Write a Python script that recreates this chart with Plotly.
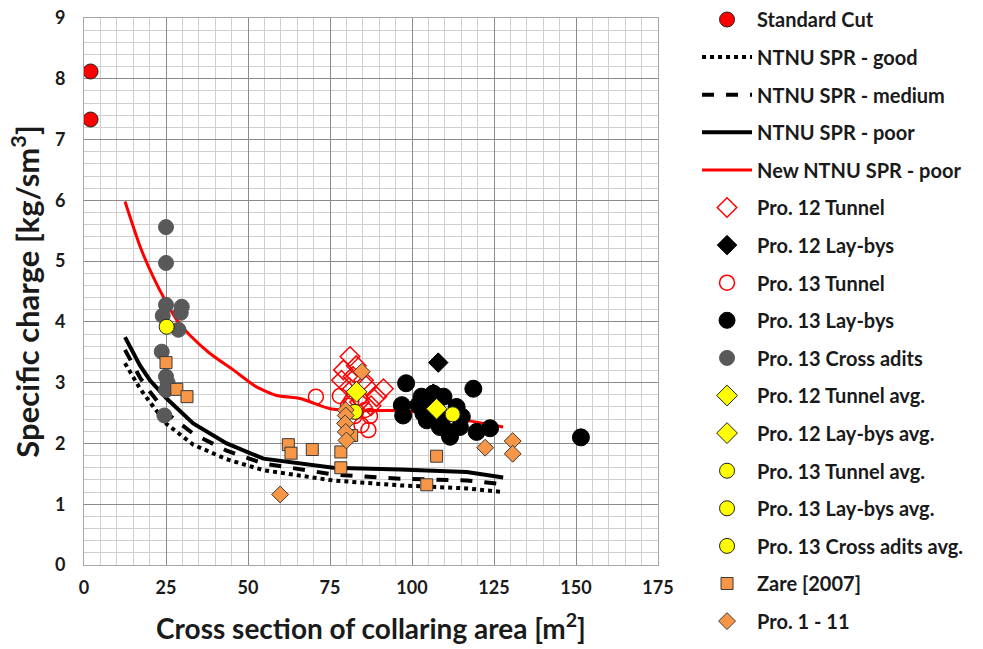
import plotly.graph_objects as go

# ---------------- data ----------------
std_cut_x = [2.0, 2.0]
std_cut_y = [8.12, 7.33]

spr_x = [12.5, 17.1, 20.1, 25.2, 33.3, 43.5, 54.7, 76.0, 96.3, 116.7, 127.8]
spr_good_y = [3.32, 2.90, 2.68, 2.32, 1.98, 1.74, 1.56, 1.39, 1.31, 1.26, 1.20]
spr_med_y = [3.54, 3.08, 2.85, 2.50, 2.16, 1.88, 1.67, 1.49, 1.42, 1.39, 1.33]
spr_poor_y = [3.75, 3.28, 3.04, 2.74, 2.33, 2.00, 1.75, 1.60, 1.57, 1.53, 1.44]

new_spr_x = [12.5, 17.1, 21.1, 24.7, 28.3, 32.3, 38.4, 45.5, 52.6, 58.7, 65.9, 75.0, 82.1, 94.3, 106.5, 116.7, 127.8]
new_spr_y = [5.98, 5.24, 4.74, 4.36, 4.03, 3.78, 3.48, 3.21, 2.93, 2.79, 2.74, 2.57, 2.54, 2.54, 2.49, 2.38, 2.27]

p12_tunnel_x = [81.1, 79.1, 83.0, 78.5, 85.2, 91.3, 89.2, 86.0, 80.8, 84.0, 87.5, 82.0]
p12_tunnel_y = [3.43, 3.21, 3.28, 3.04, 3.04, 2.90, 2.77, 2.95, 2.92, 2.68, 2.62, 3.10]

p12_laybys_x = [108.0, 106.5]
p12_laybys_y = [3.33, 2.82]

p13_tunnel_x = [70.7, 78.0, 80.5, 82.5, 84.6, 86.7, 85.7, 87.2, 84.0, 81.5]
p13_tunnel_y = [2.77, 2.78, 2.62, 2.45, 2.30, 2.22, 2.55, 2.45, 2.75, 2.70]

p13_laybys_x = [98.2, 118.7, 96.9, 97.3, 102.9, 106.5, 109.6, 103.5, 104.5, 108.5, 111.1, 114.6,
                115.2, 113.6, 107.5, 105.5, 101.9, 119.7, 123.8, 111.6, 109.0, 151.5]
p13_laybys_y = [2.99, 2.90, 2.63, 2.46, 2.77, 2.82, 2.77, 2.49, 2.38, 2.27, 2.19, 2.27,
                2.44, 2.60, 2.55, 2.66, 2.63, 2.19, 2.25, 2.11, 2.35, 2.10]

p13_cross_x = [25.0, 25.0, 25.0, 29.8, 24.0, 28.8, 23.7, 25.0, 25.0, 24.5, 25.5, 29.5]
p13_cross_y = [5.56, 4.97, 4.28, 4.25, 4.10, 3.87, 3.51, 3.10, 2.88, 2.46, 3.00, 4.15]

p12_tunnel_avg_x = [83.1]
p12_tunnel_avg_y = [2.85]
p12_laybys_avg_x = [107.5]
p12_laybys_avg_y = [2.57]
p13_tunnel_avg_x = [82.6]
p13_tunnel_avg_y = [2.52]
p13_laybys_avg_x = [112.4]
p13_laybys_avg_y = [2.48]
p13_cross_avg_x = [25.2]
p13_cross_avg_y = [3.92]

zare_x = [25.0, 28.3, 31.4, 62.3, 63.1, 69.6, 78.3, 78.3, 81.6, 107.5, 104.5]
zare_y = [3.33, 2.89, 2.77, 1.98, 1.84, 1.90, 1.86, 1.60, 2.13, 1.79, 1.32]

pro1_11_x = [84.7, 79.8, 79.8, 79.6, 79.8, 80.0, 59.8, 122.3, 130.7, 130.7]
pro1_11_y = [3.18, 2.55, 2.46, 2.33, 2.19, 2.05, 1.16, 1.93, 2.04, 1.83]

x_ticks = [0, 25, 50, 75, 100, 125, 150, 175]
y_ticks = [0, 1, 2, 3, 4, 5, 6, 7, 8, 9]

# ---------------- figure ----------------
fig = go.Figure()
ORANGE = "#f79646"
OUTL = "#3a3a3a"


def add(name, x, y, **kw):
    fig.add_trace(go.Scatter(x=x, y=y, name=name, legendgroup=name, **kw))


add("Standard Cut", std_cut_x, std_cut_y, mode="markers",
    marker=dict(symbol="circle", size=15, color="#ff0000", line=dict(color="#202020", width=1)))
add("NTNU SPR - good", spr_x, spr_good_y, mode="lines",
    line=dict(color="black", width=4, dash="dot"))
add("NTNU SPR - medium", spr_x, spr_med_y, mode="lines",
    line=dict(color="black", width=4, dash="dash"))
add("NTNU SPR - poor", spr_x, spr_poor_y, mode="lines",
    line=dict(color="black", width=4))
add("New NTNU SPR - poor", new_spr_x, new_spr_y, mode="lines",
    line=dict(color="#ff0000", width=3, shape="spline", smoothing=0.6))
add("Pro. 12 Tunnel", p12_tunnel_x, p12_tunnel_y, mode="markers",
    marker=dict(symbol="diamond-open", size=15, color="#ff0000", line=dict(width=1.5)))
add("Pro. 12 Lay-bys", p12_laybys_x, p12_laybys_y, mode="markers",
    marker=dict(symbol="diamond", size=15, color="black", line=dict(color="black", width=1)))
add("Pro. 13 Tunnel", p13_tunnel_x, p13_tunnel_y, mode="markers",
    marker=dict(symbol="circle-open", size=15, color="#ff0000", line=dict(width=1.5)))
add("Pro. 13 Lay-bys", p13_laybys_x, p13_laybys_y, mode="markers",
    marker=dict(symbol="circle", size=17, color="black", line=dict(color="black", width=1)))
add("Pro. 13 Cross adits", p13_cross_x, p13_cross_y, mode="markers",
    marker=dict(symbol="circle", size=15, color="#595959", line=dict(color="#595959", width=1)))
add("Pro. 12 Tunnel avg.", p12_tunnel_avg_x, p12_tunnel_avg_y, mode="markers",
    marker=dict(symbol="diamond", size=16, color="#ffff00", line=dict(color="#202020", width=1)))
add("Pro. 12 Lay-bys avg.", p12_laybys_avg_x, p12_laybys_avg_y, mode="markers",
    marker=dict(symbol="diamond", size=16, color="#ffff00", line=dict(color="#202020", width=1)))
add("Pro. 13 Tunnel avg.", p13_tunnel_avg_x, p13_tunnel_avg_y, mode="markers",
    marker=dict(symbol="circle", size=15, color="#ffff00", line=dict(color="#202020", width=1)))
add("Pro. 13 Lay-bys avg.", p13_laybys_avg_x, p13_laybys_avg_y, mode="markers",
    marker=dict(symbol="circle", size=15, color="#ffff00", line=dict(color="#202020", width=1)))
add("Pro. 13 Cross adits avg.", p13_cross_avg_x, p13_cross_avg_y, mode="markers",
    marker=dict(symbol="circle", size=15, color="#ffff00", line=dict(color="#202020", width=1)))
add("Zare [2007]", zare_x, zare_y, mode="markers",
    marker=dict(symbol="square", size=12, color=ORANGE, line=dict(color=OUTL, width=1)))
add("Pro. 1 - 11", pro1_11_x, pro1_11_y, mode="markers",
    marker=dict(symbol="diamond", size=13, color=ORANGE, line=dict(color=OUTL, width=1)))

FONT = "Lato"
fig.update_layout(
    width=983, height=649,
    margin=dict(l=84, r=325, t=18, b=84, autoexpand=False),
    paper_bgcolor="white", plot_bgcolor="white",
    font=dict(family=FONT, color="#222222"),
    showlegend=True,
    legend=dict(
        x=1.068, y=1.0329, xanchor="left", yanchor="top",
        maxheight=700,
        traceorder="grouped", tracegroupgap=8.6,
        font=dict(family=FONT, size=20, color="#1a1a1a", weight="bold"),
        bgcolor="rgba(0,0,0,0)", borderwidth=0,
        itemwidth=50,
    ),
    xaxis=dict(
        range=[0, 175], tickvals=x_ticks, ticktext=[str(v) for v in x_ticks],
        showgrid=True, gridcolor="#8a8a8a", gridwidth=1,
        minor=dict(dtick=5, tick0=0, showgrid=True, gridcolor="#cfcfcf", gridwidth=1),
        showline=True, linecolor="#a6a6a6", linewidth=1, mirror=True,
        zeroline=False, ticks="", ticklabelstandoff=6,
        tickfont=dict(family=FONT, size=18, color="#1a1a1a", weight="bold"),
        title=dict(text="Cross section of collaring area [m<sup>2</sup>]",
                   font=dict(family=FONT, size=28, color="#1a1a1a", weight="bold"), standoff=22),
    ),
    yaxis=dict(
        range=[0, 9], tickvals=y_ticks, ticktext=[str(v) for v in y_ticks],
        showgrid=True, gridcolor="#8a8a8a", gridwidth=1,
        minor=dict(dtick=0.2, tick0=0, showgrid=True, gridcolor="#cfcfcf", gridwidth=1),
        showline=True, linecolor="#a6a6a6", linewidth=1, mirror=True,
        zeroline=False, ticks="", ticklabelstandoff=14,
        tickfont=dict(family=FONT, size=18, color="#1a1a1a", weight="bold"),
        title=dict(text="Specific charge [kg/sm<sup>3</sup>]",
                   font=dict(family=FONT, size=31, color="#1a1a1a", weight="bold"), standoff=6),
    ),
)

fig.write_html("out.html")
